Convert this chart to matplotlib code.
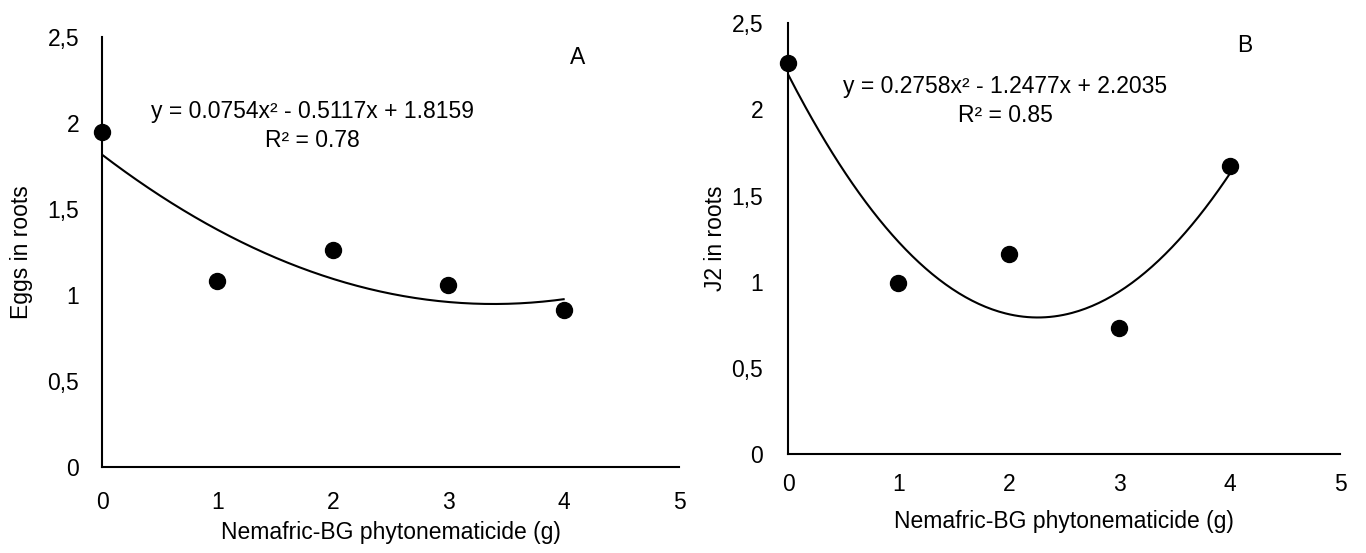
import numpy as np
import matplotlib
matplotlib.use("Agg")
import matplotlib.pyplot as plt
from matplotlib.ticker import FuncFormatter

plt.rcParams['font.family'] = ['Liberation Sans', 'DejaVu Sans']

# doses de Nemafric-BG (g)
doses = [0, 1, 2, 3, 4]

# panneau A : oeufs dans les racines
oeufs = [1.95, 1.08, 1.26, 1.06, 0.91]
coef_a = [0.0754, -0.5117, 1.8159]
eq_a = "y = 0.0754x² - 0.5117x + 1.8159"
r2_a = "R² = 0.78"

# panneau B : J2 dans les racines
j2 = [2.27, 0.99, 1.16, 0.73, 1.67]
coef_b = [0.2758, -1.2477, 2.2035]
eq_b = "y = 0.2758x² - 1.2477x + 2.2035"
r2_b = "R² = 0.85"

x_ticks = [0, 1, 2, 3, 4, 5]
y_ticks = [0, 0.5, 1, 1.5, 2, 2.5]

fig = plt.figure(figsize=(13.66, 5.53), dpi=100)
ax1 = fig.add_axes([0.0747, 0.1555, 0.4224, 0.7776])
ax2 = fig.add_axes([0.5769, 0.179, 0.4041, 0.779])

virgule = FuncFormatter(lambda v, p: f"{v:g}".replace(".", ","))
fs = 16.5


def panneau(ax, y, coef, eq, r2, ylabel, lettre, pos_eq, pos_lettre,
            pad_x, pad_y, labelpad_x, pos_ylabel):
    xx = np.linspace(0, 4, 200)
    ax.plot(xx, np.polyval(coef, xx), color="black", lw=1.5)
    ax.plot(doses, y, "o", color="black", markersize=11.5, clip_on=False, zorder=3)
    ax.set_xlim(0, 5)
    ax.set_ylim(0, 2.5)
    ax.set_xticks(x_ticks)
    ax.set_yticks(y_ticks)
    ax.yaxis.set_major_formatter(virgule)
    for s in ["top", "right"]:
        ax.spines[s].set_visible(False)
    for s in ["left", "bottom"]:
        ax.spines[s].set_linewidth(1.5)
        ax.spines[s].set_color("black")
    ax.tick_params(axis="both", length=0, labelsize=fs)
    ax.tick_params(axis="y", pad=pad_y)
    ax.tick_params(axis="x", pad=pad_x)
    ax.set_xlabel("Nemafric-BG phytonematicide (g)", fontsize=fs, labelpad=labelpad_x)
    ax.set_ylabel(ylabel, fontsize=fs)
    ax.yaxis.set_label_coords(pos_ylabel, 0.5)
    ax.text(pos_eq[0], pos_eq[1], eq + "\n" + r2, transform=ax.transAxes,
            ha="center", va="center", fontsize=fs, linespacing=1.3)
    ax.text(pos_lettre[0], pos_lettre[1], lettre, transform=ax.transAxes,
            ha="center", va="center", fontsize=fs)


panneau(ax1, oeufs, coef_a, eq_a, r2_a, "Eggs in roots", "A",
        (0.364, 0.793), (0.825, 0.953), 17, 16.5, 5, -0.12)
panneau(ax2, j2, coef_b, eq_b, r2_b, "J2 in roots", "B",
        (0.393, 0.819), (0.827, 0.949), 14, 18, 10, -0.11)

plt.savefig("out.png", dpi=100)
